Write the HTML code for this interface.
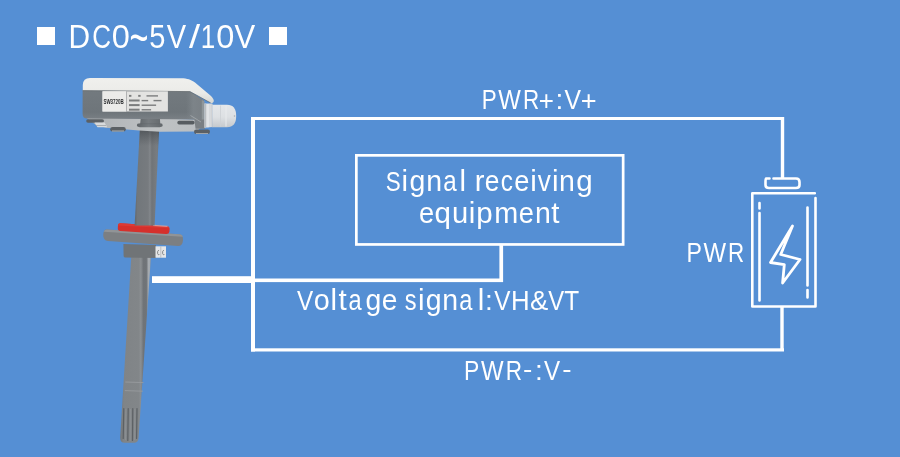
<!DOCTYPE html>
<html><head><meta charset="utf-8">
<style>
html,body{margin:0;padding:0;background:#558fd4;width:900px;height:457px;overflow:hidden}
svg{display:block}
text{font-family:"Liberation Sans",sans-serif;fill:#fff}
</style></head><body>
<svg width="900" height="457" viewBox="0 0 900 457">
<defs><filter id="fNone2" filterUnits="userSpaceOnUse" x="0" y="0" width="900" height="457"><feOffset dx="0" dy="0"/></filter></defs>
<rect width="900" height="457" fill="#558fd4"/>
<!-- title -->
<rect x="37" y="27" width="18" height="18" fill="#fff"/>
<rect x="269" y="27" width="18" height="18" fill="#fff"/>
<g id="title" filter="url(#fNone2)">
<text x="0" y="0" font-size="32.5" transform="translate(68.55 47.70) scale(0.920 1)">D</text>
<text x="0" y="0" font-size="32.5" transform="translate(92.15 47.70) scale(0.800 1)">C</text>
<text x="0" y="0" font-size="32.5" transform="translate(111.86 47.70) scale(1.000 1)">0</text>
<text x="0" y="0" font-size="32.5" transform="translate(129.45 55.15) scale(0.996 1.613)">~</text>
<text x="0" y="0" font-size="32.5" transform="translate(149.23 47.70) scale(0.896 1)">5</text>
<text x="0" y="0" font-size="32.5" transform="translate(166.77 47.70) scale(0.893 1)">V</text>
<text x="0" y="0" font-size="32.5" transform="translate(188.90 47.70) scale(1.229 1)">/</text>
<text x="0" y="0" font-size="32.5" transform="translate(200.66 47.70) scale(0.800 1)">1</text>
<text x="0" y="0" font-size="32.5" transform="translate(216.26 47.70) scale(1.000 1)">0</text>
<text x="0" y="0" font-size="32.5" transform="translate(234.56 47.70) scale(0.954 1)">V</text>
</g>
<!-- frame wires -->
<g fill="#fff">
<rect x="251" y="117" width="533" height="3"/>
<rect x="251" y="117" width="4" height="234.5"/>
<rect x="251" y="348.3" width="533" height="3.2"/>
<rect x="780.8" y="117" width="3.4" height="62"/>
<rect x="780.3" y="306" width="3.4" height="44"/>
<!-- signal -->
<rect x="152" y="276.2" width="101" height="6.8"/>
<rect x="253" y="278.5" width="250" height="3.6"/>
<rect x="499.4" y="244" width="3.7" height="38"/>
</g>
<!-- box -->
<rect x="356.35" y="155.35" width="266.8" height="89.1" fill="none" stroke="#fff" stroke-width="2.7"/>
<!-- battery -->
<g fill="none" stroke="#fff" stroke-width="2.6" stroke-linecap="round" stroke-linejoin="round">
<path d="M769.5 178.5 H766 Q765.5 178.5 765.5 182 V185 Q765.5 188 769 188 H796 Q799.5 188 799.5 185 V182 Q799.5 178.5 796 178.5 H773.5"/>
<path d="M815.5 198 V306.5 H752.3 V193.2 H814.8"/>
<path d="M759.5 203 V208.5 M759.5 213 V300.5"/>
<path d="M807.5 207.5 V285.5 M807.5 290 V297.5"/>
<path d="M792.5 226 L770.5 262.5 L784.3 264.6 L782.6 283 L800 259.5 L780.7 254.5 Z" stroke-width="2.8"/>
</g>
<!-- labels -->
<g id="labels" filter="url(#fNone2)">
<text x="0" y="0" font-size="28" transform="translate(481.75 108.70) scale(0.800 1)">P</text>
<text x="0" y="0" font-size="28" transform="translate(498.29 108.70) scale(0.855 1)">W</text>
<text x="0" y="0" font-size="28" transform="translate(523.06 108.70) scale(0.800 1)">R</text>
<text x="0" y="0" font-size="28" transform="translate(538.73 109.64) scale(0.926 0.993)">+</text>
<text x="0" y="0" font-size="28" transform="translate(555.46 108.70) scale(1.000 1)">:</text>
<text x="0" y="0" font-size="28" transform="translate(564.49 108.70) scale(0.884 1)">V</text>
<text x="0" y="0" font-size="28" transform="translate(580.77 109.64) scale(0.970 0.993)">+</text>
<text x="0" y="0" font-size="28" transform="translate(385.64 190.50) scale(0.800 1)">S</text>
<text x="0" y="0" font-size="29.5" transform="translate(401.48 190.50) scale(1.000 1)">i</text>
<text x="0" y="0" font-size="29.5" transform="translate(409.40 190.50) scale(0.965 1)">g</text>
<text x="0" y="0" font-size="29.5" transform="translate(426.21 190.50) scale(0.966 1)">n</text>
<text x="0" y="0" font-size="29.5" transform="translate(443.27 190.50) scale(0.818 1)">a</text>
<text x="0" y="0" font-size="29.5" transform="translate(459.47 190.50) scale(1.000 1)">l</text>
<text x="0" y="0" font-size="29.5" transform="translate(474.66 190.50) scale(0.990 1)">r</text>
<text x="0" y="0" font-size="29.5" transform="translate(484.78 190.50) scale(0.896 1)">e</text>
<text x="0" y="0" font-size="29.5" transform="translate(500.67 190.50) scale(0.826 1)">c</text>
<text x="0" y="0" font-size="29.5" transform="translate(514.14 190.50) scale(0.925 1)">e</text>
<text x="0" y="0" font-size="29.5" transform="translate(530.28 190.50) scale(1.000 1)">i</text>
<text x="0" y="0" font-size="29.5" transform="translate(537.71 190.50) scale(0.887 1)">v</text>
<text x="0" y="0" font-size="29.5" transform="translate(551.98 190.50) scale(1.000 1)">i</text>
<text x="0" y="0" font-size="29.5" transform="translate(559.11 190.50) scale(0.966 1)">n</text>
<text x="0" y="0" font-size="29.5" transform="translate(576.23 190.50) scale(1.000 1)">g</text>
<text x="0" y="0" font-size="29.5" transform="translate(418.94 223.00) scale(0.925 1)">e</text>
<text x="0" y="0" font-size="29.5" transform="translate(434.52 223.00) scale(1.000 1)">q</text>
<text x="0" y="0" font-size="29.5" transform="translate(452.00 223.00) scale(0.989 1)">u</text>
<text x="0" y="0" font-size="29.5" transform="translate(468.68 223.00) scale(1.000 1)">i</text>
<text x="0" y="0" font-size="29.5" transform="translate(476.17 223.00) scale(1.000 1)">p</text>
<text x="0" y="0" font-size="29.5" transform="translate(494.29 223.00) scale(0.977 1)">m</text>
<text x="0" y="0" font-size="29.5" transform="translate(518.84 223.00) scale(0.925 1)">e</text>
<text x="0" y="0" font-size="29.5" transform="translate(534.91 223.00) scale(0.966 1)">n</text>
<text x="0" y="0" font-size="29.5" transform="translate(551.29 223.00) scale(1.000 1)">t</text>
<text x="0" y="0" font-size="28" transform="translate(296.99 309.90) scale(0.868 1)">V</text>
<text x="0" y="0" font-size="29.5" transform="translate(313.79 309.90) scale(0.976 1)">o</text>
<text x="0" y="0" font-size="29.5" transform="translate(330.42 309.90) scale(1.000 1)">l</text>
<text x="0" y="0" font-size="29.5" transform="translate(338.39 309.90) scale(1.000 1)">t</text>
<text x="0" y="0" font-size="29.5" transform="translate(348.44 309.90) scale(0.800 1)">a</text>
<text x="0" y="0" font-size="29.5" transform="translate(365.40 309.90) scale(0.965 1)">g</text>
<text x="0" y="0" font-size="29.5" transform="translate(381.70 309.90) scale(0.954 1)">e</text>
<text x="0" y="0" font-size="29.5" transform="translate(404.70 309.90) scale(0.800 1)">s</text>
<text x="0" y="0" font-size="29.5" transform="translate(418.08 309.90) scale(1.000 1)">i</text>
<text x="0" y="0" font-size="29.5" transform="translate(425.80 309.90) scale(0.965 1)">g</text>
<text x="0" y="0" font-size="29.5" transform="translate(442.21 309.90) scale(0.966 1)">n</text>
<text x="0" y="0" font-size="29.5" transform="translate(459.19 309.90) scale(0.800 1)">a</text>
<text x="0" y="0" font-size="29.5" transform="translate(477.82 309.90) scale(1.000 1)">l</text>
<text x="0" y="0" font-size="28" transform="translate(485.11 309.90) scale(1.000 1)">:</text>
<text x="0" y="0" font-size="28" transform="translate(494.29 309.90) scale(0.868 1)">V</text>
<text x="0" y="0" font-size="28" transform="translate(510.99 309.90) scale(0.921 1)">H</text>
<text x="0" y="0" font-size="28" transform="translate(530.04 309.90) scale(0.979 1)">&amp;</text>
<text x="0" y="0" font-size="28" transform="translate(548.30 309.90) scale(0.852 1)">V</text>
<text x="0" y="0" font-size="28" transform="translate(564.35 309.90) scale(0.872 1)">T</text>
<text x="0" y="0" font-size="28" transform="translate(686.40 261.60) scale(0.825 1)">P</text>
<text x="0" y="0" font-size="28" transform="translate(703.39 261.60) scale(0.855 1)">W</text>
<text x="0" y="0" font-size="28" transform="translate(727.91 261.60) scale(0.800 1)">R</text>
<text x="0" y="0" font-size="28" transform="translate(464.12 380.00) scale(0.819 1)">P</text>
<text x="0" y="0" font-size="28" transform="translate(480.99 380.00) scale(0.855 1)">W</text>
<text x="0" y="0" font-size="28" transform="translate(505.65 380.00) scale(0.806 1)">R</text>
<text x="0" y="0" font-size="28" transform="translate(522.99 378.40) scale(1.000 0.914)">-</text>
<text x="0" y="0" font-size="28" transform="translate(534.91 380.00) scale(1.000 1)">:</text>
<text x="0" y="0" font-size="28" transform="translate(544.09 380.00) scale(0.863 1)">V</text>
<text x="0" y="0" font-size="28" transform="translate(562.19 378.40) scale(1.000 0.914)">-</text>
</g>
<!-- SENSOR -->
<g id="sensor">
<defs>
<linearGradient id="gPole" x1="0" x2="1" y1="0" y2="0">
<stop offset="0" stop-color="#62676b"/><stop offset="0.12" stop-color="#72777b"/><stop offset="0.55" stop-color="#777b7f"/><stop offset="0.62" stop-color="#83878b"/><stop offset="0.7" stop-color="#707478"/><stop offset="0.92" stop-color="#797d81"/><stop offset="1" stop-color="#64696c"/>
</linearGradient>
<linearGradient id="gProbe" x1="0" x2="1" y1="0" y2="0">
<stop offset="0" stop-color="#73777a"/><stop offset="0.12" stop-color="#808487"/><stop offset="0.6" stop-color="#828689"/><stop offset="0.67" stop-color="#8b8f92"/><stop offset="0.75" stop-color="#707478"/><stop offset="0.85" stop-color="#6f7377"/><stop offset="0.93" stop-color="#aeb3b8"/><stop offset="1" stop-color="#8e9499"/>
</linearGradient>
<linearGradient id="gCap" x1="0" x2="0" y1="0" y2="1">
<stop offset="0" stop-color="#f0f0ed"/><stop offset="0.6" stop-color="#ebebe8"/><stop offset="1" stop-color="#d6d7d3"/>
</linearGradient>
<linearGradient id="gFront" x1="0" x2="0" y1="0" y2="1">
<stop offset="0" stop-color="#737a7f"/><stop offset="0.75" stop-color="#6e757a"/><stop offset="1" stop-color="#7a8085"/>
</linearGradient>
<linearGradient id="gGland" x1="0" x2="0" y1="0" y2="1">
<stop offset="0" stop-color="#e4e7e9"/><stop offset="0.55" stop-color="#dde0e3"/><stop offset="1" stop-color="#c5c9cd"/>
</linearGradient>
<filter id="fNone" x="0" y="0" width="1" height="1"><feOffset dx="0" dy="0"/></filter>
<linearGradient id="gPoleTop" x1="0" x2="0" y1="0" y2="1"><stop offset="0" stop-color="#2c3034" stop-opacity="0.6"/><stop offset="1" stop-color="#3c4044" stop-opacity="0"/></linearGradient>
<linearGradient id="gCollar" x1="0" x2="1" y1="0" y2="0"><stop offset="0" stop-color="#5f6468"/><stop offset="0.45" stop-color="#767b7f"/><stop offset="1" stop-color="#63686c"/></linearGradient>
<linearGradient id="gFaceR" x1="0" x2="1" y1="0" y2="0"><stop offset="0" stop-color="#7b8287" stop-opacity="0"/><stop offset="0.4" stop-color="#80878c" stop-opacity="0.8"/><stop offset="1" stop-color="#7a8085" stop-opacity="0.9"/></linearGradient>
<linearGradient id="gBottom" x1="0" x2="1" y1="0" y2="0">
<stop offset="0" stop-color="#adb1b4"/><stop offset="0.6" stop-color="#bfc2c4"/><stop offset="1" stop-color="#b9bdc0"/>
</linearGradient>
</defs>
<!-- probe lower -->
<path d="M131.3 256 L151 256 L138.6 437.5 Q138.3 442.8 134 442.8 L124.6 442.8 Q120.1 442.8 120.2 437.5 Z" fill="url(#gProbe)"/>
<path d="M125.3 382 L143.5 382.6 M124.8 390.6 L142.9 391.2" stroke="#979b9e" stroke-width="0.9" fill="none"/>
<g stroke="#5c6064" stroke-width="1.2" fill="none" stroke-linecap="round">
<path d="M123.8 408.5 L123.2 438.5 M128.2 408.5 L127.8 440.5 M132.8 408.5 L132.5 440.5 M137 408.5 L136.6 438.5"/>
</g>
<g stroke="#8e9295" stroke-width="0.8" fill="none">
<path d="M125.9 409 L125.5 440 M130.5 409 L130.2 441 M134.9 409 L134.6 440"/>
</g>
<!-- collar under flange -->
<path d="M123.4 244 L156 245 L156 258 L125 257.5 Q123.6 257.4 123.6 256 Z" fill="#707477"/>
<rect x="155.5" y="246.3" width="10.5" height="11.4" fill="#e6e7e8"/>
<path d="M160.8 246.3 v11.4" stroke="#b4b6b8" stroke-width="0.8"/>
<path d="M158.8 250 q-1.6 1 -1.2 3.5 q0.6 2 1.8 1 M163.8 250 q-1.6 1 -1.2 3.5 q0.6 2 1.8 1" stroke="#6c6e70" stroke-width="0.8" fill="none"/>
<!-- flange -->
<path d="M107 229.4 L179 234.2 Q183.3 234.5 183 240 Q182.6 246.3 178 246.1 L108 241 Q103.2 240.6 103.2 235 Q103.3 229.2 107 229.4 Z" fill="#7c7f82"/>
<path d="M107 229.6 L179 234.3 Q182.5 234.6 182.8 236.8 L103.8 231.8 Q104.5 229.5 107 229.6 Z" fill="#919497"/>
<!-- red ring -->
<path d="M120.5 223.3 L166.5 226.2 Q169.6 226.4 169.6 229 L169.4 231.8 Q169 234.3 166 234.1 L120.5 231 Q117.8 230.8 117.8 228.5 L117.9 226 Q118 223.2 120.5 223.3 Z" fill="#d5302c"/>
<path d="M120.5 223.3 L166.5 226.2 Q169.4 226.4 169.5 228.3 L117.9 225.6 Q118 223.2 120.5 223.3 Z" fill="#dc3a35"/>
<path d="M153 225.3 L167.5 226.3" stroke="#d9a8a4" stroke-width="1.2" opacity="0.8"/>
<!-- upper pole -->
<path d="M140 126 L159.2 126 L154.6 225.5 L134.6 225.5 Z" fill="url(#gPole)"/>
<path d="M140 126 L159.2 126 L158.4 146 L139.1 146 Z" fill="url(#gPoleTop)"/>
<!-- housing bottom face -->
<path d="M86 117.5 L204 119.5 L202 126 L197 131.5 L160 131.7 L139 130.5 L106 127.8 L96 125 Z" fill="url(#gBottom)"/>
<!-- feet -->
<rect x="86.2" y="119.2" width="17.8" height="3.6" rx="1.8" fill="#5b6064"/>
<path d="M94.5 122.6 L104.5 122.6 L107.2 127.3 L97.5 127.3 Z" fill="#d8dadc"/>
<path d="M96 125.5 L106 125.5" stroke="#9ea2a5" stroke-width="0.8"/>
<rect x="110.2" y="127" width="15.6" height="4.6" rx="2.3" fill="#5b6064"/>
<path d="M112 131 h12" stroke="#b9bcbe" stroke-width="0.9"/>
<rect x="177.3" y="120.7" width="17.3" height="3.9" rx="1.8" fill="#575c60"/>
<path d="M194.3 119 L205 119 L205 128.8 L195.5 128.8 Z" fill="#7a7f83"/>
<rect x="194" y="129.5" width="16" height="4.6" rx="2.3" fill="#5b6064"/>
<path d="M196 133.5 h12" stroke="#a9adb0" stroke-width="0.9"/>
<!-- pole collar -->
<path d="M140.7 118.8 L159.9 118.8 L160.3 123.4 L162.2 123.9 Q163.3 125.3 162.2 126.5 L159.8 127.3 L139.8 127.3 L137.4 126.5 Q136.3 125.3 137.4 123.9 L140.2 123.4 Z" fill="url(#gCollar)"/>
<path d="M137.5 123.8 L162.2 123.8" stroke="#5d6266" stroke-width="0.6" opacity="0.7"/>
<!-- housing front face -->
<path d="M82.6 90 L189 90.8 L203.8 100.5 L203.8 119.6 L87 118.6 Q82.6 118.5 82.6 114 Z" fill="url(#gFront)"/>
<path d="M186 92 L190 91.8 L203.8 100.5 L203.8 119.6 L186 119.4 Z" fill="url(#gFaceR)"/>
<path d="M201.8 100 L204.6 101.3 L204.6 119.6 L201.8 119.6 Z" fill="#8f969a"/>
<path d="M190.5 115.5 L201 122" stroke="#a6abae" stroke-width="1" opacity="0.8"/>
<!-- cap -->
<path d="M82.8 90.5 L82.8 85 Q83 78 90 78 L181 78.2 C187.5 78.3 191 79.6 195 82.6 L211 96 Q214.5 99.5 213.6 101.8 Q212.8 103.6 210.4 102.8 L190 91.6 Z" fill="url(#gCap)"/>
<path d="M82.8 90.6 L190 91.6 L210.6 102.9" stroke="#5d6265" stroke-width="0.9" fill="none" opacity="0.75"/>
<!-- gland -->
<path d="M204.4 103.6 L212.4 103.6 L212.4 127 L204.4 127.8 Z" fill="#d6d9dc"/>
<path d="M204.4 103.6 L206 103.6 L206 127.6 L204.4 127.8 Z" fill="#b9bdc0"/>
<path d="M208 104 v23.3" stroke="#e8eaec" stroke-width="1.2"/>
<path d="M212.2 104 v23.3" stroke="#b8bcbf" stroke-width="0.7"/>
<path d="M212.3 104.8 L227 104.8 Q236.2 104.8 236.2 116 Q236.2 127.2 227 127.2 L212.3 127.2 Z" fill="url(#gGland)"/>
<path d="M220.5 105.5 v21" stroke="#cdd1d4" stroke-width="0.8"/>
<path d="M226 105.5 v21" stroke="#e9ebed" stroke-width="1"/>
<circle cx="234.5" cy="116" r="0.8" fill="#a8adb1"/>
<!-- label -->
<rect x="102.5" y="91.3" width="65.4" height="20.2" fill="#e3e3e1"/>
<rect x="102.5" y="91.3" width="23.6" height="20.2" fill="#ebebe9"/>
<path d="M126.5 91.3 v20.2" stroke="#a4a6a7" stroke-width="0.8"/>
<g filter="url(#fNone)"><text x="103.4" y="104.4" font-size="6.6" textLength="20.4" lengthAdjust="spacingAndGlyphs" style="fill:#2e3032;font-weight:bold">SW3720B</text></g>
<g fill="#505254" opacity="0.7">
<rect x="129" y="94.9" width="2.4" height="1.9"/><rect x="138.2" y="94.9" width="2.4" height="1.9"/><rect x="146.5" y="95.2" width="11.5" height="1.4"/>
<rect x="129" y="99.5" width="10.6" height="2"/><rect x="141.6" y="99.9" width="6.6" height="1.4"/><rect x="153.5" y="99.9" width="8" height="1.4"/>
<rect x="129" y="104.1" width="10.6" height="2"/><rect x="141.6" y="104.5" width="14.5" height="1.4"/>
<rect x="129" y="108.7" width="10.6" height="2"/><rect x="141.6" y="109.1" width="9.5" height="1.4"/>
</g>
</g>
</svg>
</body></html>
